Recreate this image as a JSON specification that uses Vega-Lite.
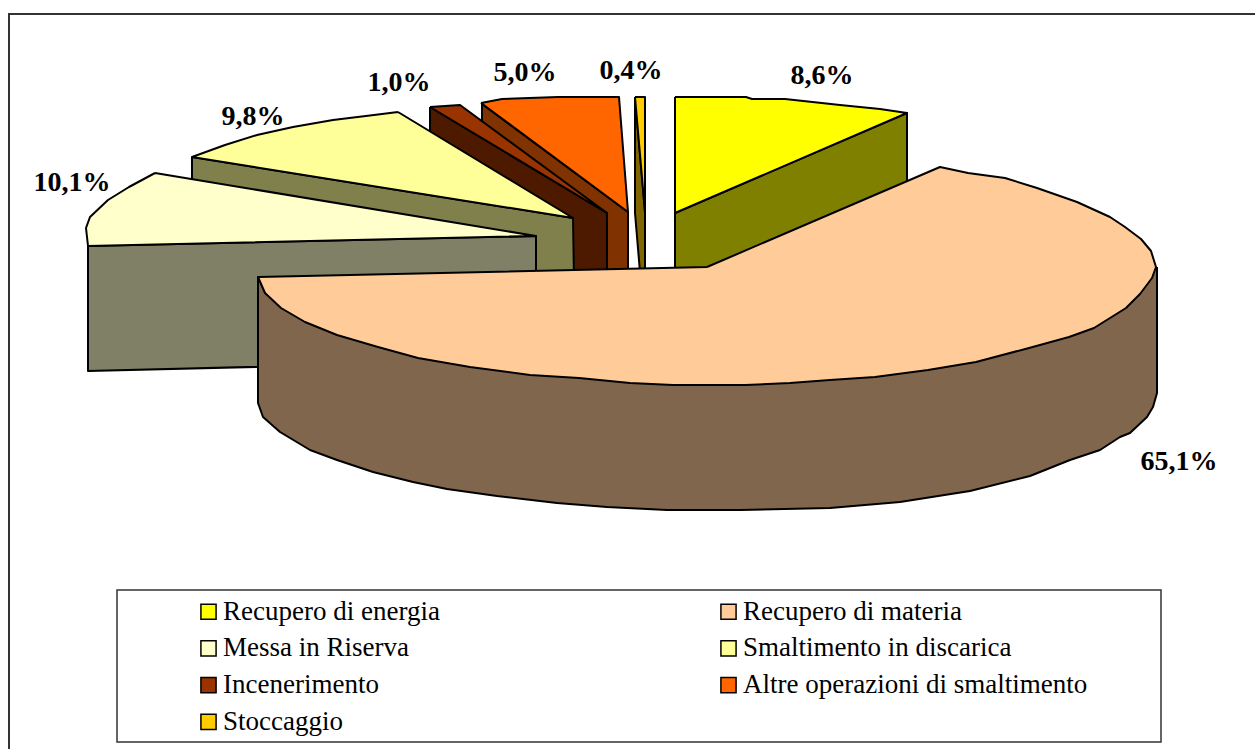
{"$schema":"https://vega.github.io/schema/vega-lite/v6.json","width":1255,"height":749,"autosize":{"type":"none"},"padding":0,"background":"white","view":{"stroke":null},
"layer":[
{"data":{"values":[{"name":"frame","seq":0,"x":9,"y":749},{"name":"frame","seq":1,"x":9,"y":14},{"name":"frame","seq":2,"x":1255,"y":14}]},
"mark":{"type":"line","stroke":"#333333","strokeWidth":2,"strokeJoin":"miter"},
"encoding":{"x":{"field":"x","type":"quantitative","scale":{"domain":[0,1255],"nice":false,"zero":false},"axis":null},"y":{"field":"y","type":"quantitative","scale":{"domain":[749,0],"nice":false,"zero":false},"axis":null},"order":{"field":"seq"},"detail":{"field":"name"}}},
{"data":{"values":[{"x":117,"x2":1161,"y":590,"y2":742}]},
"mark":{"type":"rect","fill":"white","stroke":"#333333","strokeWidth":1.5},
"encoding":{"x":{"field":"x","type":"quantitative","axis":null},"x2":{"field":"x2"},"y":{"field":"y","type":"quantitative","axis":null},"y2":{"field":"y2"}}},
{"data":{"values":[
{"part":"Recupero di energia, lato","seq":0,"x":675,"y":213},{"part":"Recupero di energia, lato","seq":1,"x":907,"y":113},{"part":"Recupero di energia, lato","seq":2,"x":907,"y":195},{"part":"Recupero di energia, lato","seq":3,"x":707,"y":275},{"part":"Recupero di energia, lato","seq":4,"x":675,"y":275},{"part":"Recupero di energia, lato","seq":5,"x":675,"y":213},
{"part":"Recupero di energia","seq":0,"x":675,"y":97},{"part":"Recupero di energia","seq":1,"x":746,"y":97},{"part":"Recupero di energia","seq":2,"x":752,"y":99},{"part":"Recupero di energia","seq":3,"x":785,"y":99},{"part":"Recupero di energia","seq":4,"x":840,"y":105},{"part":"Recupero di energia","seq":5,"x":880,"y":109},{"part":"Recupero di energia","seq":6,"x":907,"y":113},{"part":"Recupero di energia","seq":7,"x":675,"y":213},{"part":"Recupero di energia","seq":8,"x":675,"y":97},
{"part":"Stoccaggio, lato","seq":0,"x":635,"y":97},{"part":"Stoccaggio, lato","seq":1,"x":645,"y":212},{"part":"Stoccaggio, lato","seq":2,"x":645,"y":272},{"part":"Stoccaggio, lato","seq":3,"x":640,"y":272},{"part":"Stoccaggio, lato","seq":4,"x":635,"y":213},{"part":"Stoccaggio, lato","seq":5,"x":635,"y":97},
{"part":"Stoccaggio","seq":0,"x":635,"y":97},{"part":"Stoccaggio","seq":1,"x":645,"y":97},{"part":"Stoccaggio","seq":2,"x":645,"y":212},{"part":"Stoccaggio","seq":3,"x":635,"y":97},
{"part":"Altre operazioni di smaltimento, lato","seq":0,"x":482,"y":104},{"part":"Altre operazioni di smaltimento, lato","seq":1,"x":628,"y":212},{"part":"Altre operazioni di smaltimento, lato","seq":2,"x":628,"y":280},{"part":"Altre operazioni di smaltimento, lato","seq":3,"x":482,"y":280},{"part":"Altre operazioni di smaltimento, lato","seq":4,"x":482,"y":104},
{"part":"Altre operazioni di smaltimento","seq":0,"x":481,"y":103},{"part":"Altre operazioni di smaltimento","seq":1,"x":502,"y":99},{"part":"Altre operazioni di smaltimento","seq":2,"x":558,"y":97},{"part":"Altre operazioni di smaltimento","seq":3,"x":619,"y":97},{"part":"Altre operazioni di smaltimento","seq":4,"x":628,"y":212},{"part":"Altre operazioni di smaltimento","seq":5,"x":481,"y":103},
{"part":"Incenerimento, lato","seq":0,"x":430,"y":107},{"part":"Incenerimento, lato","seq":1,"x":607,"y":213},{"part":"Incenerimento, lato","seq":2,"x":607,"y":280},{"part":"Incenerimento, lato","seq":3,"x":430,"y":280},{"part":"Incenerimento, lato","seq":4,"x":430,"y":107},
{"part":"Incenerimento","seq":0,"x":430,"y":107},{"part":"Incenerimento","seq":1,"x":460,"y":105},{"part":"Incenerimento","seq":2,"x":607,"y":213},{"part":"Incenerimento","seq":3,"x":430,"y":107},
{"part":"Smaltimento in discarica, lato","seq":0,"x":192,"y":157},{"part":"Smaltimento in discarica, lato","seq":1,"x":573,"y":218},{"part":"Smaltimento in discarica, lato","seq":2,"x":574,"y":280},{"part":"Smaltimento in discarica, lato","seq":3,"x":192,"y":280},{"part":"Smaltimento in discarica, lato","seq":4,"x":192,"y":157},
{"part":"Smaltimento in discarica","seq":0,"x":398,"y":112},{"part":"Smaltimento in discarica","seq":1,"x":573,"y":218},{"part":"Smaltimento in discarica","seq":2,"x":192,"y":157},{"part":"Smaltimento in discarica","seq":3,"x":225,"y":145},{"part":"Smaltimento in discarica","seq":4,"x":257,"y":135},{"part":"Smaltimento in discarica","seq":5,"x":293,"y":127},{"part":"Smaltimento in discarica","seq":6,"x":333,"y":120},{"part":"Smaltimento in discarica","seq":7,"x":374,"y":115},{"part":"Smaltimento in discarica","seq":8,"x":398,"y":112},
{"part":"Messa in Riserva, lato","seq":0,"x":88,"y":246},{"part":"Messa in Riserva, lato","seq":1,"x":536,"y":236},{"part":"Messa in Riserva, lato","seq":2,"x":536,"y":360},{"part":"Messa in Riserva, lato","seq":3,"x":88,"y":371},{"part":"Messa in Riserva, lato","seq":4,"x":88,"y":246},
{"part":"Messa in Riserva","seq":0,"x":155,"y":173},{"part":"Messa in Riserva","seq":1,"x":536,"y":236},{"part":"Messa in Riserva","seq":2,"x":88,"y":246},{"part":"Messa in Riserva","seq":3,"x":86,"y":228},{"part":"Messa in Riserva","seq":4,"x":90,"y":217},{"part":"Messa in Riserva","seq":5,"x":108,"y":200},{"part":"Messa in Riserva","seq":6,"x":129,"y":187},{"part":"Messa in Riserva","seq":7,"x":155,"y":173},
{"part":"Recupero di materia, lato","seq":0,"x":258,"y":277},{"part":"Recupero di materia, lato","seq":1,"x":258,"y":403},{"part":"Recupero di materia, lato","seq":2,"x":263,"y":417},{"part":"Recupero di materia, lato","seq":3,"x":280,"y":432},{"part":"Recupero di materia, lato","seq":4,"x":310,"y":450},{"part":"Recupero di materia, lato","seq":5,"x":337,"y":460},{"part":"Recupero di materia, lato","seq":6,"x":373,"y":472},{"part":"Recupero di materia, lato","seq":7,"x":413,"y":482},{"part":"Recupero di materia, lato","seq":8,"x":447,"y":489},{"part":"Recupero di materia, lato","seq":9,"x":497,"y":496},{"part":"Recupero di materia, lato","seq":10,"x":557,"y":503},{"part":"Recupero di materia, lato","seq":11,"x":607,"y":507},{"part":"Recupero di materia, lato","seq":12,"x":667,"y":510},{"part":"Recupero di materia, lato","seq":13,"x":740,"y":510},{"part":"Recupero di materia, lato","seq":14,"x":830,"y":508},{"part":"Recupero di materia, lato","seq":15,"x":900,"y":502},{"part":"Recupero di materia, lato","seq":16,"x":970,"y":491},{"part":"Recupero di materia, lato","seq":17,"x":1030,"y":476},{"part":"Recupero di materia, lato","seq":18,"x":1070,"y":460},{"part":"Recupero di materia, lato","seq":19,"x":1100,"y":450},{"part":"Recupero di materia, lato","seq":20,"x":1120,"y":437},{"part":"Recupero di materia, lato","seq":21,"x":1130,"y":433},{"part":"Recupero di materia, lato","seq":22,"x":1147,"y":417},{"part":"Recupero di materia, lato","seq":23,"x":1153,"y":407},{"part":"Recupero di materia, lato","seq":24,"x":1157,"y":393},{"part":"Recupero di materia, lato","seq":25,"x":1157,"y":267},
{"part":"Recupero di materia","seq":0,"x":707,"y":267},{"part":"Recupero di materia","seq":1,"x":940,"y":167},{"part":"Recupero di materia","seq":2,"x":968,"y":173},{"part":"Recupero di materia","seq":3,"x":1005,"y":178},{"part":"Recupero di materia","seq":4,"x":1037,"y":188},{"part":"Recupero di materia","seq":5,"x":1077,"y":202},{"part":"Recupero di materia","seq":6,"x":1110,"y":217},{"part":"Recupero di materia","seq":7,"x":1125,"y":227},{"part":"Recupero di materia","seq":8,"x":1141,"y":239},{"part":"Recupero di materia","seq":9,"x":1151,"y":251},{"part":"Recupero di materia","seq":10,"x":1156,"y":267},{"part":"Recupero di materia","seq":11,"x":1152,"y":278},{"part":"Recupero di materia","seq":12,"x":1140,"y":294},{"part":"Recupero di materia","seq":13,"x":1126,"y":308},{"part":"Recupero di materia","seq":14,"x":1094,"y":328},{"part":"Recupero di materia","seq":15,"x":1069,"y":337},{"part":"Recupero di materia","seq":16,"x":1029,"y":348},{"part":"Recupero di materia","seq":17,"x":976,"y":362},{"part":"Recupero di materia","seq":18,"x":928,"y":370},{"part":"Recupero di materia","seq":19,"x":875,"y":377},{"part":"Recupero di materia","seq":20,"x":830,"y":380},{"part":"Recupero di materia","seq":21,"x":790,"y":383},{"part":"Recupero di materia","seq":22,"x":745,"y":385},{"part":"Recupero di materia","seq":23,"x":673,"y":385},{"part":"Recupero di materia","seq":24,"x":630,"y":383},{"part":"Recupero di materia","seq":25,"x":579,"y":378},{"part":"Recupero di materia","seq":26,"x":530,"y":375},{"part":"Recupero di materia","seq":27,"x":470,"y":367},{"part":"Recupero di materia","seq":28,"x":418,"y":358},{"part":"Recupero di materia","seq":29,"x":378,"y":347},{"part":"Recupero di materia","seq":30,"x":337,"y":335},{"part":"Recupero di materia","seq":31,"x":305,"y":322},{"part":"Recupero di materia","seq":32,"x":281,"y":308},{"part":"Recupero di materia","seq":33,"x":265,"y":293},{"part":"Recupero di materia","seq":34,"x":258,"y":277},{"part":"Recupero di materia","seq":35,"x":707,"y":267}
]},
"mark":{"type":"line","filled":true,"stroke":"black","strokeWidth":2,"strokeJoin":"round"},
"encoding":{"x":{"field":"x","type":"quantitative","axis":null},"y":{"field":"y","type":"quantitative","axis":null},"order":{"field":"seq"},
"fill":{"field":"part","type":"nominal",
"scale":{"domain":["Recupero di energia","Recupero di materia","Messa in Riserva","Smaltimento in discarica","Incenerimento","Altre operazioni di smaltimento","Stoccaggio","Recupero di energia, lato","Recupero di materia, lato","Messa in Riserva, lato","Smaltimento in discarica, lato","Incenerimento, lato","Altre operazioni di smaltimento, lato","Stoccaggio, lato"],
"range":["#FFFF00","#FFCC99","#FFFFCC","#FFFF99","#993300","#FF6600","#FFCC00","#808000","#80664D","#808066","#80804D","#4D1A00","#803300","#806600"]},
"legend":{"orient":"none","legendX":195,"legendY":598,"columns":2,"title":null,"values":["Recupero di energia","Messa in Riserva","Incenerimento","Stoccaggio","Recupero di materia","Smaltimento in discarica","Altre operazioni di smaltimento"],"symbolType":"square","symbolSize":230,"symbolStrokeColor":"black","symbolStrokeWidth":1.5,"labelFont":"Liberation Serif","labelFontSize":27,"labelColor":"black","labelOffset":1,"labelLimit":500,"rowPadding":8.8,"columnPadding":275,"padding":0}}}},
{"data":{"values":[{"label":"8,6%","x":822,"y":76},{"label":"65,1%","x":1179,"y":462},{"label":"10,1%","x":72,"y":183},{"label":"9,8%","x":253,"y":117},{"label":"1,0%","x":399,"y":83},{"label":"5,0%","x":525,"y":73},{"label":"0,4%","x":631,"y":71}]},
"mark":{"type":"text","font":"Liberation Serif","fontWeight":"bold","fontSize":28,"color":"black","align":"center","baseline":"middle"},
"encoding":{"x":{"field":"x","type":"quantitative","axis":null},"y":{"field":"y","type":"quantitative","axis":null},"text":{"field":"label"}}}
]}
